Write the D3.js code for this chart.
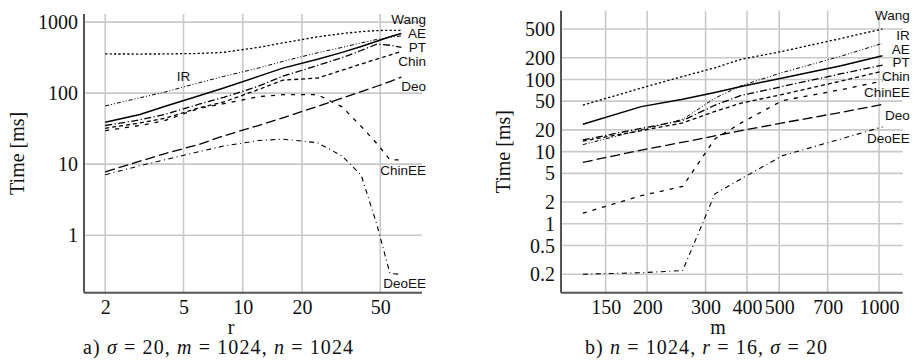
<!DOCTYPE html>
<html><head><meta charset="utf-8">
<script src="https://cdn.jsdelivr.net/npm/d3@7"></script>
<style>
body{margin:0;background:#fff;}
svg{display:block;}
.tick-lab{font-family:"Liberation Serif","DejaVu Serif",serif;font-size:20px;fill:#111;}
.ser-lab{font-family:"Liberation Sans",Arial,sans-serif;font-size:13.5px;fill:#111;}
</style></head>
<body>
<svg id="c" width="915" height="361"></svg>
<script>
// ---------- Panel a) data: time [ms] vs r ----------
const rValues = [2,3,4,6,8,12,16,24,32,40,48,56,64];
const aWang   = [356,355,356,362,375,440,510,620,690,735,760,766,766];
const aIR     = [66,86,103,140,172,225,280,370,440,510,570,610,640];
const aAE     = [39,50,65,92,118,172,225,300,375,454,537,620,690];
const aPT     = [35,42,50,70,87,125,173,245,316,398,490,472,440];
const aChin   = [32,38,44,62,75,112,152,163,210,257,301,344,387];
const aChinEE = [29.6,35,41,61,71,89,95,95,64,34,19.6,11.5,11.5];
const aDeo    = [7.8,11,14,19,25,35,45,65,85,105,125,145,168];
const aDeoEE  = [7.1,9.5,11.5,15,18,21.5,22.5,20,13,7,1.42,0.29,0.28];
const aXTicks = [2,5,10,20,50];
const aYTicks = [1,10,100,1000];
const aLabelValues = {Wang:1103, AE:699, PT:444, Chin:281, Deo:123, ChinEE:8.3, DeoEE:0.21};
const aIRLabel = {r:5, t:170};

// ---------- Panel b) data: time [ms] vs m ----------
const mValues = [128,192,256,320,384,512,768,1024];
const bWang   = [44,76,110,145,190,245,370,500];
const bIR     = [12.5,20,28,55,82,125,210,316];
const bAE     = [24,42,53,66,80,105,155,213];
const bPT     = [14.5,21,27,44,60,80,120,158];
const bChin   = [14,19.5,25,36,47,62,95,130];
const bChinEE = [1.4,2.45,3.3,15,25,51,72,95];
const bDeo    = [7.1,10.5,13.5,16.5,19.5,25,35,45];
const bDeoEE  = [0.2,0.21,0.225,2.6,4.2,8.8,15,22];
const bXTicks = [150,200,300,400,500,700,1000];
const bYTicks = [0.2,0.5,1,2,5,10,20,50,100,200,500];
const bLabelValues = {Wang:765, IR:404, AE:264, PT:172, Chin:109, ChinEE:66, Deo:32, DeoEE:15.3};

const seriesNames = ["Wang","IR","AE","PT","Chin","ChinEE","Deo","DeoEE"];
const styles = {
  Wang:   {dash:"2.2,2.2", w:1.3},
  IR:     {dash:"4,2,1,2,1,2", w:1.0},
  AE:     {dash:null, w:1.5},
  PT:     {dash:"7,2.5,1.2,2.5", w:1.3},
  Chin:   {dash:"4,3", w:1.3},
  ChinEE: {dash:"4,6", w:1.3},
  Deo:    {dash:"10,4", w:1.3},
  DeoEE:  {dash:"5,3.5,1,3.5", w:1.1}
};

const svg = d3.select("#c");

function panel(cfg){
  const g = svg.append("g");
  const x = d3.scaleLog().domain(cfg.xDom).range(cfg.xRange);
  const y = d3.scaleLog().domain(cfg.yDom).range(cfg.yRange);
  const [x0,x1] = cfg.xRange, [y0,y1] = cfg.yRange;
  // grid
  g.selectAll(".hg").data(cfg.yTicks).join("line")
    .attr("x1",x0).attr("x2",x1).attr("y1",d=>y(d)).attr("y2",d=>y(d))
    .attr("stroke","#c9c9c9").attr("stroke-width",1.6);
  g.selectAll(".vg").data(cfg.xTicks).join("line")
    .attr("x1",d=>x(d)).attr("x2",d=>x(d)).attr("y1",y0).attr("y2",y1)
    .attr("stroke","#c9c9c9").attr("stroke-width",1.6);
  // axes (labels only, no ticks)
  const ax = d3.axisBottom(x).tickValues(cfg.xTicks).tickFormat(d3.format("d")).tickSize(0).tickPadding(8);
  const ay = d3.axisLeft(y).tickValues(cfg.yTicks).tickFormat(d=>String(d)).tickSize(0).tickPadding(6);
  const gx = g.append("g").attr("transform",`translate(0,${y0})`).call(ax);
  const gy = g.append("g").attr("transform",`translate(${x0},0)`).call(ay);
  [gx,gy].forEach(a=>{
    a.select(".domain").remove();
    a.selectAll("text").attr("class","tick-lab").attr("fill","#111").style("font-size","20px")
      .style("font-family","'Liberation Serif','DejaVu Serif',serif");
  });
  gy.selectAll("text").attr("dy","0.33em");
  gx.selectAll("text").attr("dy","0.66em");
  // axis lines
  g.append("line").attr("x1",x0).attr("x2",x0).attr("y1",y0).attr("y2",y1)
    .attr("stroke","#555").attr("stroke-width",2);
  g.append("line").attr("x1",x0).attr("x2",x1).attr("y1",y0).attr("y2",y0)
    .attr("stroke","#555").attr("stroke-width",2);
  // series
  const line = d3.line().x((d,i)=>x(cfg.xs[i])).y(d=>y(d));
  seriesNames.forEach(n=>{
    const s = styles[n];
    g.append("path").datum(cfg.data[n]).attr("d",line)
      .attr("fill","none").attr("stroke","#000").attr("stroke-width",s.w)
      .attr("stroke-dasharray",s.dash);
  });
  // series labels
  Object.entries(cfg.labels).forEach(([n,v])=>{
    g.append("text").attr("class","ser-lab").attr("x",x1+cfg.labPad).attr("y",y(v))
      .attr("dy","0.35em").attr("text-anchor","end").text(n);
  });
  // axis titles
  g.append("text").attr("class","tick-lab")
    .attr("transform",`translate(${cfg.yTitleX},${(y0+y1)/2}) rotate(-90)`)
    .attr("text-anchor","middle").attr("dy","0.35em").text("Time [ms]");
  g.append("text").attr("class","tick-lab").attr("x",cfg.xTitleX).attr("y",334)
    .attr("text-anchor","middle").text(cfg.xTitle);
  // caption
  const cap = g.append("text").attr("class","tick-lab").attr("x",cfg.capX).attr("y",354)
    .attr("textLength",cfg.capLen).attr("lengthAdjust","spacing");
  cfg.caption.forEach(([t,it])=>{
    cap.append("tspan").style("font-style",it?"italic":"normal").text(t);
  });
  return {x,y,g};
}

const pa = panel({
  xDom:[1.56,81.5], xRange:[84,422], yDom:[0.155,1300], yRange:[292.7,14],
  xTicks:aXTicks, yTicks:aYTicks, xs:rValues,
  data:{Wang:aWang,IR:aIR,AE:aAE,PT:aPT,Chin:aChin,ChinEE:aChinEE,Deo:aDeo,DeoEE:aDeoEE},
  labels:aLabelValues, labPad:4, yTitleX:17, xTitleX:231, xTitle:"r", capX:83, capLen:270,
  caption:[["a) ",0],["σ",1],[" = 20, ",0],["m",1],[" = 1024, ",0],["n",1],[" = 1024",0]]
});
pa.g.append("text").attr("class","ser-lab").attr("x",pa.x(aIRLabel.r)).attr("y",pa.y(aIRLabel.t))
  .attr("dy","0.35em").attr("text-anchor","middle").text("IR");

panel({
  xDom:[110,1178], xRange:[561,902.7], yDom:[0.111,896], yRange:[292.7,10.7],
  xTicks:bXTicks, yTicks:bYTicks, xs:mValues,
  data:{Wang:bWang,IR:bIR,AE:bAE,PT:bPT,Chin:bChin,ChinEE:bChinEE,Deo:bDeo,DeoEE:bDeoEE},
  labels:bLabelValues, labPad:7, yTitleX:503, xTitleX:718, xTitle:"m", capX:585, capLen:242,
  caption:[["b) ",0],["n",1],[" = 1024, ",0],["r",1],[" = 16, ",0],["σ",1],[" = 20",0]]
});
</script>
</body></html>
